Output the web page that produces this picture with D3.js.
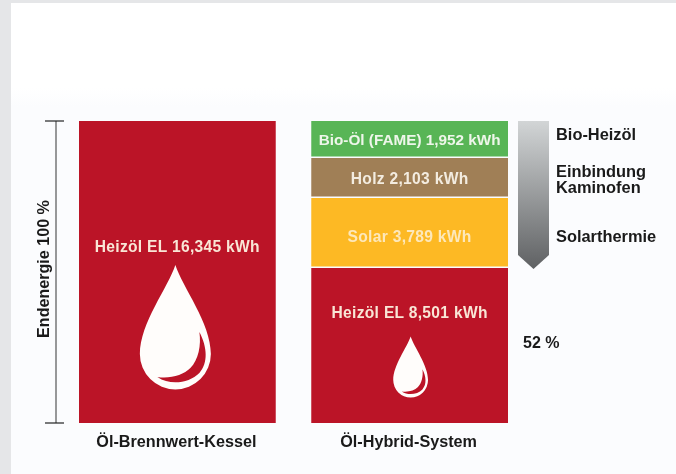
<!DOCTYPE html>
<html lang="de">
<head>
  <meta charset="utf-8">
  <title>Endenergie Öl-Brennwert-Kessel und Öl-Hybrid-System</title>
  <script src="https://d3js.org/d3.v7.min.js"></script>
  <style>
    html, body { margin: 0; padding: 0; background: #e5e6e8; overflow: hidden; }
    svg { display: block; font-family: "Liberation Sans", Arial, sans-serif; font-weight: bold; filter: blur(0.35px); }
  </style>
</head>
<body>
  <svg id="chart"></svg>
  <script>
    const systems = ["Öl-Brennwert-Kessel", "Öl-Hybrid-System"];
    const kesselSources = ["Heizöl EL"];
    const kesselValues = [16345];
    const hybridSources = ["Heizöl EL", "Solar", "Holz", "Bio-Öl (FAME)"];
    const hybridValues = [8501, 3789, 2103, 1952];
    const sourceColors = ["#bb1427", "#fdb924", "#a07f56", "#58b556"];
    const shareLabel = "52 %";
    const axisLabel = "Endenergie 100 %";

    const width = 676, height = 474;
    const total = d3.sum(kesselValues);

    const svg = d3.select("#chart").attr("width", width).attr("height", height);

    const defs = svg.append("defs");
    const panelGrad = defs.append("linearGradient").attr("id", "panel")
        .attr("x1", 0).attr("x2", 0).attr("y1", 0).attr("y2", 1);
    panelGrad.append("stop").attr("offset", "0.18").attr("stop-color", "#ffffff");
    panelGrad.append("stop").attr("offset", "0.22").attr("stop-color", "#fbfcfe");
    const arrowGrad = defs.append("linearGradient").attr("id", "arrow")
        .attr("x1", 0).attr("x2", 0).attr("y1", 0).attr("y2", 1);
    arrowGrad.append("stop").attr("offset", "0").attr("stop-color", "#d2d5d6");
    arrowGrad.append("stop").attr("offset", "1").attr("stop-color", "#5f6163");

    svg.append("rect").attr("x", 11).attr("y", 3)
        .attr("width", width - 11).attr("height", height - 3)
        .attr("fill", "url(#panel)");

    const x = d3.scaleBand().domain(systems).range([79, 508]).paddingInner(0.153);

    // the source picture is not quite to scale, so the stack breaks are pinned
    const cum = d3.cumsum(hybridValues);
    const y = d3.scaleLinear().domain([0, ...cum]).range([423, 268, 198, 158, 121]);

    // whisker left of the first bar
    svg.append("line").attr("x1", 56).attr("x2", 56).attr("y1", y(total)).attr("y2", y(0))
        .attr("stroke", "#555").attr("stroke-width", 1.2);
    svg.selectAll(".cap").data([0, total]).join("line").attr("class", "cap")
        .attr("x1", 45).attr("x2", 64)
        .attr("y1", d => y(d)).attr("y2", d => y(d))
        .attr("stroke", "#222").attr("stroke-width", 1.2);

    svg.append("text")
        .attr("transform", "translate(48.5,269) rotate(-90)")
        .attr("text-anchor", "middle")
        .attr("font-size", 16.1).attr("fill", "#1a1a1a")
        .text(axisLabel);

    // bars
    const kesselRow = kesselValues.map((v, i) => ({ sys: systems[0], name: kesselSources[i], v, y0: 0, y1: v, color: sourceColors[0] }));
    const hybridRow = hybridValues.map((v, i) => ({ sys: systems[1], name: hybridSources[i], v, y0: i ? cum[i - 1] : 0, y1: cum[i], color: sourceColors[i] }));

    svg.selectAll(".bar").data(kesselRow.concat(hybridRow)).join("rect").attr("class", "bar")
        .attr("x", d => x(d.sys))
        .attr("width", x.bandwidth())
        .attr("y", d => y(d.y1))
        .attr("height", d => y(d.y0) - y(d.y1) - (d.y0 ? 1.5 : 0))
        .attr("fill", d => d.color);

    const fmt = d3.format(",");
    const labelFill = { "Heizöl EL": "#f9e6d6", "Solar": "#fde8bb", "Holz": "#f3ece0", "Bio-Öl (FAME)": "#eef6ea" };
    const labelMid = new Map([["Heizöl EL|0", 251.5], ["Heizöl EL|1", 317.5], ["Solar", 241.5], ["Holz", 183.5], ["Bio-Öl (FAME)", 144.5]]);

    svg.selectAll(".val").data(kesselRow.concat(hybridRow)).join("text").attr("class", "val")
        .attr("x", d => x(d.sys) + x.bandwidth() / 2)
        .attr("y", d => labelMid.get(d.name === "Heizöl EL" ? d.name + "|" + systems.indexOf(d.sys) : d.name))
        .attr("text-anchor", "middle")
        .attr("font-size", d => d.name === "Bio-Öl (FAME)" ? 15.3 : 15.6)
        .attr("letter-spacing", d => d.name === "Bio-Öl (FAME)" ? 0 : 0.3)
        .attr("fill", d => labelFill[d.name])
        .text(d => `${d.name} ${fmt(d.v)} kWh`);

    // oil drops, drawn from the tip downwards
    const dropPath = "M0,0 C7,22 35.5,58 35.5,89 A35.5,35.5 0 1 1 -35.5,89 C-35.5,58 -7,22 0,0Z";
    const shinePath = "M24,67 C32,82 33,98 24,108 C14,118 -5,121 -18,112 C-5,114 8,110 15,103 C23,95 26,80 24,67Z";
    const drops = [
      { sys: systems[0], top: 265, k: 1, dx: -2 },
      { sys: systems[1], top: 336.5, k: 0.49, dx: 1 }
    ];
    const drop = svg.selectAll(".drop").data(drops).join("g").attr("class", "drop")
        .attr("transform", d => `translate(${x(d.sys) + x.bandwidth() / 2 + d.dx},${d.top}) scale(${d.k})`);
    drop.append("path").attr("d", dropPath).attr("fill", "#fffdfb");
    drop.append("path").attr("d", shinePath).attr("fill", "#bb1427");

    // system names under the bars
    svg.selectAll(".sys").data(systems).join("text").attr("class", "sys")
        .attr("x", d => x(d) + x.bandwidth() / 2 - 1)
        .attr("y", 446.5)
        .attr("text-anchor", "middle")
        .attr("font-size", 16.2).attr("fill", "#1a1a1a")
        .text(d => d);

    // grey arrow with the measures next to it
    svg.append("path")
        .attr("d", d3.line()([[518, y(total)], [549, y(total)], [549, 255], [533.5, 269], [518, 255]]) + "Z")
        .attr("fill", "url(#arrow)");

    const measureRows = [
      { lines: ["Bio-Heizöl"], y: 139.5 },
      { lines: ["Einbindung", "Kaminofen"], y: 176.5 },
      { lines: ["Solarthermie"], y: 241.5 }
    ];
    svg.selectAll(".measure").data(measureRows).join("text").attr("class", "measure")
        .attr("font-size", 16.4).attr("fill", "#1a1a1a")
        .selectAll("tspan").data(d => d.lines.map((t, i) => ({ t, y: d.y + i * 16.5 }))).join("tspan")
        .attr("x", 556).attr("y", d => d.y).text(d => d.t);

    svg.append("text").attr("x", 523).attr("y", 347.5)
        .attr("font-size", 16).attr("fill", "#1a1a1a")
        .text(shareLabel);
  </script>
</body>
</html>
